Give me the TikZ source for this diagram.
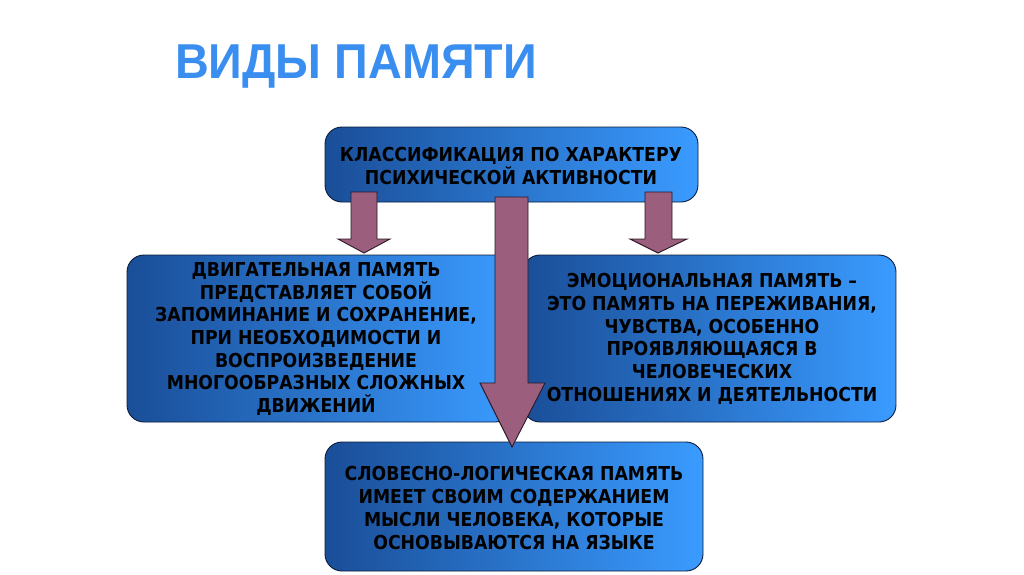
\documentclass[tikz,border=0pt]{standalone}
\usepackage{fontspec}
\setmainfont{DejaVu Sans Condensed}
\newfontfamily\titlefont{Liberation Sans}
\definecolor{boxdark}{HTML}{1A4E98}
\definecolor{boxlight}{HTML}{3A9BFF}
\definecolor{boxline}{HTML}{0B1B3A}
\definecolor{arrowfill}{HTML}{9B5E7C}
\definecolor{arrowline}{HTML}{2B1826}
\definecolor{titleblue}{HTML}{3A8EF0}
\tikzset{
  membox/.style={draw=boxline, line width=0.9pt, rounded corners=17pt,
    left color=boxdark, right color=boxlight},
  memtext/.style={font=\bfseries\fontsize{19.2}{22.7}\selectfont, align=center, text=black},
  blockarrow/.style={fill=arrowfill, draw=arrowline, line width=0.9pt, line join=miter}
}
\begin{document}
\begin{tikzpicture}[x=1pt,y=-1pt]
\useasboundingbox (0,0) rectangle (1024,574);
% title
\node[anchor=base west, inner sep=0, text=titleblue, font=\titlefont\bfseries\fontsize{49}{58}\selectfont] (title) at (175,78) {\scalebox{0.955}[1]{ВИДЫ ПАМЯТИ}};
% boxes
\draw[membox] (325,127) rectangle (698,202);
\node[memtext] (top) at (511,166) {КЛАССИФИКАЦИЯ ПО ХАРАКТЕРУ\\ПСИХИЧЕСКОЙ АКТИВНОСТИ};
\draw[membox] (127,255) rectangle (512,422);
\node[memtext] (motor) at (316,339) {ДВИГАТЕЛЬНАЯ ПАМЯТЬ\\ПРЕДСТАВЛЯЕТ СОБОЙ\\ЗАПОМИНАНИЕ И СОХРАНЕНИЕ,\\ПРИ НЕОБХОДИМОСТИ И\\ВОСПРОИЗВЕДЕНИЕ\\МНОГООБРАЗНЫХ СЛОЖНЫХ\\ДВИЖЕНИЙ};
\draw[membox] (523,255) rectangle (896,422);
\node[memtext] (emo) at (712,339) {ЭМОЦИОНАЛЬНАЯ ПАМЯТЬ –\\ЭТО ПАМЯТЬ НА ПЕРЕЖИВАНИЯ,\\ЧУВСТВА, ОСОБЕННО\\ПРОЯВЛЯЮЩАЯСЯ В\\ЧЕЛОВЕЧЕСКИХ\\ОТНОШЕНИЯХ И ДЕЯТЕЛЬНОСТИ};
\draw[membox] (325,442) rectangle (703,571);
\node[memtext] (verbal) at (514,508) {СЛОВЕСНО-ЛОГИЧЕСКАЯ ПАМЯТЬ\\ИМЕЕТ СВОИМ СОДЕРЖАНИЕМ\\МЫСЛИ ЧЕЛОВЕКА, КОТОРЫЕ\\ОСНОВЫВАЮТСЯ НА ЯЗЫКЕ};
% arrows
\draw[blockarrow] (351,192) -- (377,192) -- (377,239) -- (390,239) -- (364,253) -- (338,239) -- (351,239) -- cycle;
\draw[blockarrow] (645,192) -- (672,192) -- (672,239) -- (687,239) -- (658,253) -- (630,239) -- (645,239) -- cycle;
\draw[blockarrow] (495,197) -- (528,197) -- (528,383) -- (545,383) -- (512,447) -- (480,383) -- (495,383) -- cycle;
\end{tikzpicture}
\end{document}
